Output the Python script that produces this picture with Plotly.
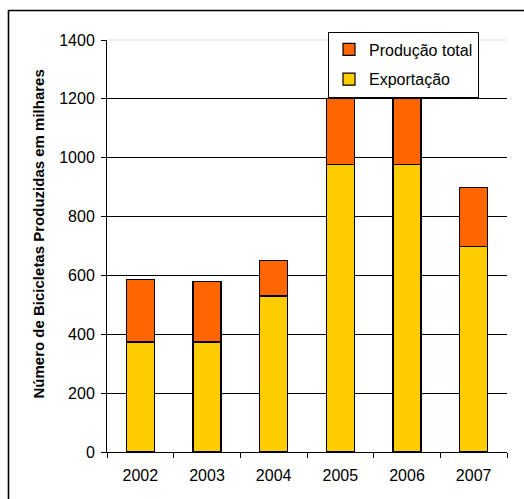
import plotly.graph_objects as go

years = ["2002", "2003", "2004", "2005", "2006", "2007"]
producao_total = [586, 580, 652, 1200, 1200, 900]
exportacao = [374, 374, 530, 976, 976, 698]
restante = [t - e for t, e in zip(producao_total, exportacao)]

W, H = 524, 499
L, R, T, B = 107, 17, 40, 47
pw, ph = W - L - R, H - T - B

def px_x(px):
    return (px - L) / pw

def px_y(py):
    return (H - B - py) / ph

font_family = "Liberation Sans, Arial, sans-serif"

fig = go.Figure()
fig.add_trace(go.Bar(
    x=years, y=exportacao, name="Exportação", legendgroup="a", legendrank=2,
    marker=dict(color="#FFCC00", line=dict(color="#000000", width=1.2)),
    width=0.42,
))
fig.add_trace(go.Bar(
    x=years, y=restante, name="Produção total", legendgroup="b", legendrank=1,
    marker=dict(color="#FF6600", line=dict(color="#000000", width=1.2)),
    width=0.42,
))

fig.update_layout(
    width=W, height=H,
    margin=dict(l=L, r=R, t=T, b=B, pad=0),
    barmode="stack",
    paper_bgcolor="white", plot_bgcolor="white",
    font=dict(family=font_family, size=16, color="#000000"),
    showlegend=True,
    legend=dict(
        x=px_x(328), y=px_y(31.5), xanchor="left", yanchor="top",
        bordercolor="#000000", borderwidth=1, bgcolor="white",
        traceorder="grouped", tracegroupgap=6,
        font=dict(size=16), itemwidth=30,
    ),
    xaxis=dict(
        type="category", showline=True, linecolor="#000000", linewidth=1,
        ticks="outside", tickson="boundaries", ticklen=5, tickcolor="#000000",
        showgrid=False, ticklabelstandoff=9,
    ),
    yaxis=dict(
        range=[0, 1400], tickvals=[0, 200, 400, 600, 800, 1000, 1200, 1400],
        showline=True, linecolor="#000000", linewidth=1,
        ticks="outside", ticklen=5, tickcolor="#000000",
        showgrid=True, gridcolor="#000000", gridwidth=1,
        zeroline=False, ticklabelstandoff=3,
    ),
    annotations=[dict(
        text="<b>Número de Bicicletas Produzidas em milhares</b>",
        xref="paper", yref="paper", x=px_x(38), y=px_y(234.5),
        textangle=-90, showarrow=False, font=dict(size=15),
        xanchor="center", yanchor="middle",
    )],
    shapes=[
        dict(
            type="rect", xref="paper", yref="paper",
            x0=px_x(8.5), x1=px_x(527), y0=px_y(502), y1=px_y(10.5),
            line=dict(color="#000000", width=1.6), fillcolor="rgba(0,0,0,0)",
            layer="below",
        ),
        dict(
            type="line", xref="paper", yref="paper",
            x0=px_x(107.5), x1=1, y0=1, y1=1,
            line=dict(color="#eeeeee", width=2), layer="between",
        ),
    ],
)

fig.write_html("out.html")
